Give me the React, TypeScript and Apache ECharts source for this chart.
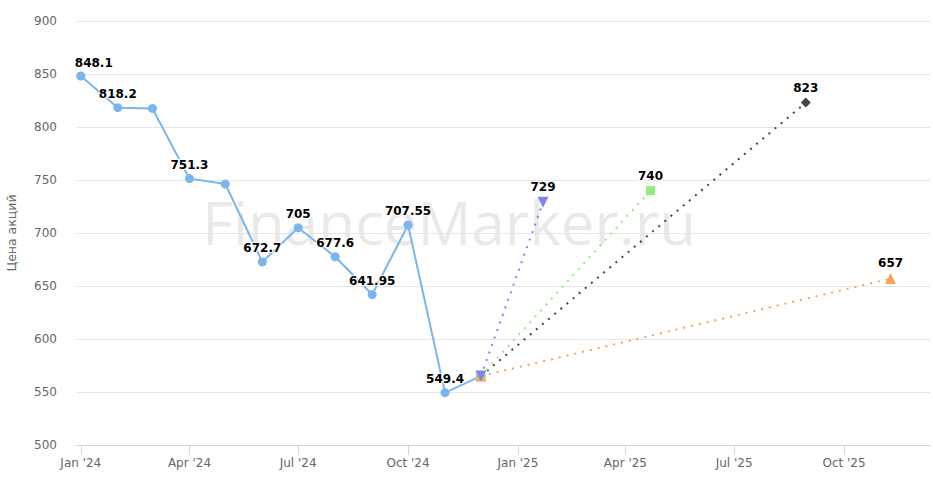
import React, { useEffect, useRef } from "react";
import * as echarts from "echarts";

// ---- data ----
const months = [
  "2024-01-01", "2024-02-01", "2024-03-01", "2024-04-01", "2024-05-01", "2024-06-01",
  "2024-07-01", "2024-08-01", "2024-09-01", "2024-10-01", "2024-11-01", "2024-12-01",
];
const prices = [848.1, 818.2, 817.5, 751.3, 746.2, 672.7, 705, 677.6, 641.95, 707.55, 549.4, 565];
const priceLabelShown = [true, true, false, true, false, true, true, true, true, true, true, false];

const forecastStartDate = "2024-12-01";
const forecastStartValue = 565;
const forecastDates = ["2025-08-30", "2025-04-22", "2025-11-09", "2025-01-22"];
const forecastValues = [823, 740, 657, 729];
const forecastColors = ["#434348", "#90ed7d", "#f7a35c", "#8085e9"];
const forecastSymbols = ["diamond", "rect", "triangle", "triangle"];
const forecastSymbolRotate = [0, 0, 0, 180];
const forecastSymbolSizes = [10, 9, 11, 11];

const tickDates = [
  "2024-01-01", "2024-04-01", "2024-07-01", "2024-10-01",
  "2025-01-01", "2025-04-01", "2025-07-01", "2025-10-01",
];
const tickLabels = ["Jan '24", "Apr '24", "Jul '24", "Oct '24", "Jan '25", "Apr '25", "Jul '25", "Oct '25"];

const axisMinDate = "2023-12-28";
const axisMaxDate = "2025-12-12";

const yTitle = "Цена акций";
const watermark = "FinanceMarker.ru";

const ts = (s: string) => {
  const [y, m, d] = s.split("-").map(Number);
  return Date.UTC(y, m - 1, d);
};

const FONT = "DejaVu Sans";

export default function App() {
  const ref = useRef<HTMLDivElement>(null);

  useEffect(() => {
    if (!ref.current) return;
    const chart = echarts.init(ref.current, null, { renderer: "svg" });
    const tickTs = tickDates.map(ts);

    const labelStyle = {
      show: true,
      position: "top",
      distance: 3,
      color: "#000",
      fontFamily: FONT,
      fontWeight: "bold",
      fontSize: 12,
      textBorderColor: "#fff",
      textBorderWidth: 2,
    };

    const series: any[] = [
      {
        type: "line",
        name: "price",
        data: months.map((m, i) => ({
          value: [ts(m), prices[i]],
          // first label is kept inside the plot area, as in the reference
          label: i === 0
            ? { show: priceLabelShown[i], align: "left", offset: [-6, 0] }
            : { show: priceLabelShown[i] },
        })),
        symbol: "circle",
        symbolSize: 9,
        showAllSymbol: true,
        lineStyle: { color: "#7cb5ec", width: 2 },
        itemStyle: { color: "#7cb5ec" },
        label: { ...labelStyle, formatter: (p: any) => String(p.value[1]) },
        z: 3,
      },
    ];

    forecastValues.forEach((v, i) => {
      series.push({
        type: "line",
        name: "f" + i,
        data: [
          { value: [ts(forecastStartDate), forecastStartValue], label: { show: false } },
          { value: [ts(forecastDates[i]), v] },
        ],
        symbol: forecastSymbols[i],
        symbolRotate: forecastSymbolRotate[i],
        symbolSize: forecastSymbolSizes[i],
        showAllSymbol: true,
        lineStyle: { color: forecastColors[i], width: 2, type: [2, 6] },
        itemStyle: { color: forecastColors[i] },
        label: { ...labelStyle, distance: 4, formatter: (p: any) => String(p.value[1]) },
        z: 4 + i,
      });
    });

    chart.setOption({
      animation: false,
      grid: {
        left: 76,
        right: 3,
        top: 21,
        bottom: 47,
        containLabel: false,
        outerBoundsMode: "none",
      },
      graphic: [
        {
          type: "text",
          x: 449,
          y: 222,
          z: 0,
          silent: true,
          style: {
            text: watermark,
            fontFamily: "Open Sans",
            fontSize: 60,
            fill: "rgba(0,0,0,0.085)",
            textAlign: "center",
            textVerticalAlign: "middle",
          },
        },
      ],
      xAxis: {
        type: "value",
        min: ts(axisMinDate),
        max: ts(axisMaxDate),
        axisLine: { show: true, lineStyle: { color: "#ccd6eb", width: 1 } },
        axisTick: {
          show: true,
          length: 10,
          lineStyle: { color: "#ccd6eb" },
          customValues: tickTs,
        },
        axisLabel: {
          customValues: tickTs,
          color: "#666666",
          fontFamily: FONT,
          fontSize: 12,
          margin: 12,
          formatter: (val: number) => {
            const idx = tickTs.indexOf(val);
            return idx >= 0 ? tickLabels[idx] : "";
          },
        },
        splitLine: { show: false },
      },
      yAxis: {
        type: "value",
        min: 500,
        max: 900,
        interval: 50,
        name: yTitle,
        nameLocation: "middle",
        nameGap: 58,
        nameTextStyle: { color: "#666666", fontFamily: FONT, fontSize: 12.5 },
        axisLine: { show: false },
        axisTick: { show: false },
        axisLabel: { color: "#666666", fontFamily: FONT, fontSize: 12, margin: 19 },
        splitLine: { lineStyle: { color: "#e6e6e6", width: 1 } },
      },
      series,
    });

    return () => chart.dispose();
  }, []);

  return (
    <div
      ref={ref}
      style={{ position: "fixed", left: 0, top: 0, width: 933, height: 492, background: "#fff" }}
    />
  );
}
